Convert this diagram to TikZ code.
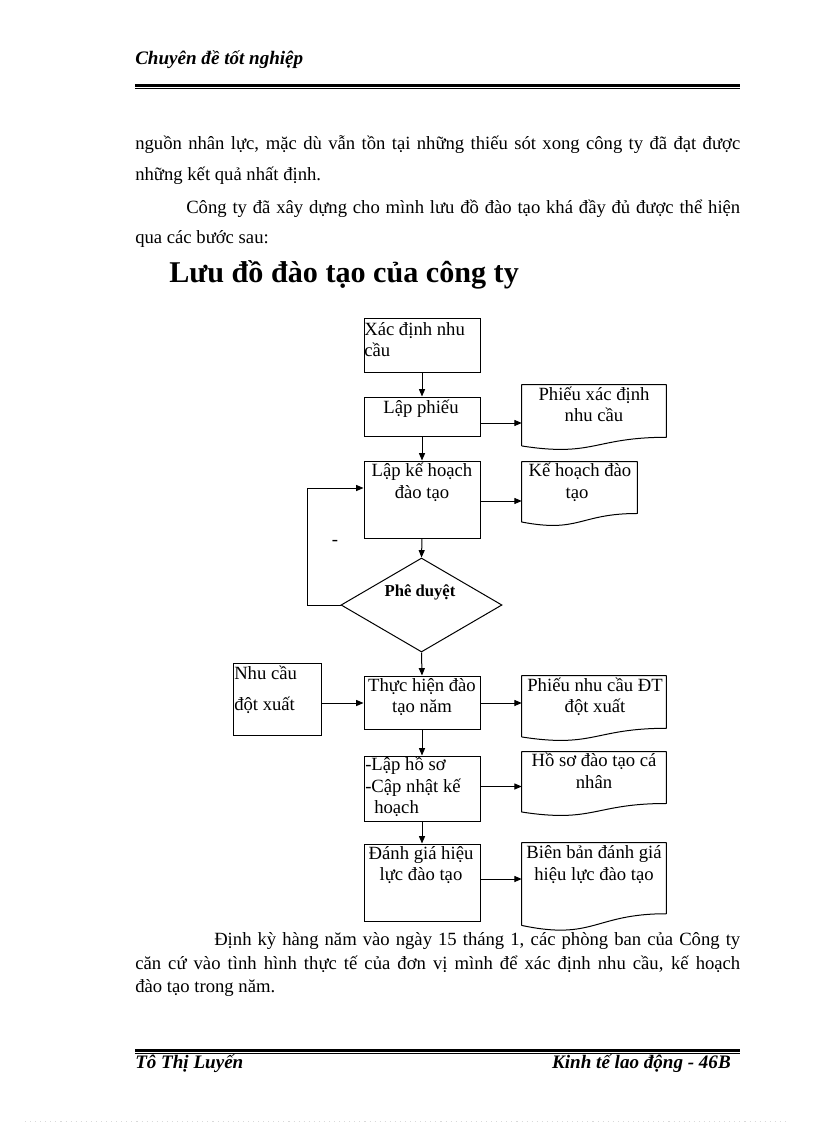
\documentclass[tikz,border=0pt]{standalone}
\usepackage{fontspec}
\setmainfont{Liberation Serif}
\usetikzlibrary{shapes.geometric,arrows.meta,calc}
\newcommand\docpath[1]{%
  \draw[ln,line join=round] (#1.north west) -- (#1.north east) -- ($(#1.north east)!0.802!(#1.south east)$)
    .. controls ($(#1.north)!0.802!(#1.south)$) and ($(#1.north)!1.107!(#1.south)$) .. ($(#1.north west)!0.934!(#1.south west)$) -- cycle;}
\begin{document}
\begin{tikzpicture}[x=0.75pt,y=-0.75pt,
  ln/.style={line width=0.75pt},
  arr/.style={line width=0.75pt,-{Triangle[length=5.5pt,width=4.5pt]}},
  boxnode/.style={draw,line width=0.75pt,rectangle,inner sep=0pt,minimum width=87pt},
  docnode/.style={rectangle,inner sep=0pt,minimum width=108pt},
  ft/.style={font=\fontsize{14pt}{16pt}\selectfont,inner sep=0pt},
  hd/.style={font=\fontsize{14.3pt}{16pt}\selectfont\bfseries\itshape,inner sep=0pt},
  dtxt/.style={font=\fontsize{12.5pt}{14pt}\selectfont\bfseries,inner sep=0pt}
]
\useasboundingbox[fill=white] (0,0) rectangle (816,1123);

% header
\node[hd,anchor=mid west] (head) at (135,61) {Chuyên đề tốt nghiệp};
\draw[line width=1.9pt] (135,85.3) -- (740,85.3);
\draw[line width=0.75pt] (135,88.3) -- (740,88.3);

% body text
\node[ft,anchor=mid west] (p1) at (135,146) {\makebox[453.75pt][s]{nguồn nhân lực, mặc dù vẫn tồn tại những thiếu sót xong công ty đã đạt được}};
\node[ft,anchor=mid west] (p2) at (135,177) {những kết quả nhất định.};
\node[ft,anchor=mid west] (p3) at (186,210) {\makebox[415.5pt][s]{Công ty đã xây dựng cho mình lưu đồ đào tạo khá đầy đủ được thể hiện}};
\node[ft,anchor=mid west] (p4) at (135,240) {qua các bước sau:};

\node[anchor=mid west,inner sep=0pt,font=\fontsize{22.6pt}{24pt}\selectfont\bfseries] (title) at (169,279) {Lưu đồ đào tạo của công ty};

% flowchart boxes
\node[boxnode,minimum height=40.5pt] (b1) at (422,345) {};
\node[boxnode,minimum height=29.25pt] (b2) at (422,416.5) {};
\node[boxnode,minimum height=57.75pt] (b3) at (422,499.5) {};
\node[draw,line width=0.75pt,shape=diamond,inner sep=0pt,minimum width=120.75pt,minimum height=70.5pt] (dp) at (421.5,605) {};
\node[boxnode,minimum height=39.75pt] (b4) at (422,702.5) {};
\node[boxnode,minimum height=48.75pt] (b5) at (422,788.5) {};
\node[boxnode,minimum height=57.75pt] (b6) at (422,882.5) {};
\node[boxnode,minimum width=66pt,minimum height=54pt] (lb) at (277,699) {};

% document shapes
\node[docnode,minimum height=48.75pt] (d1) at (594,417.5) {};
\node[docnode,minimum width=86.25pt,minimum height=48pt] (d2) at (579.5,494) {};
\node[docnode,minimum height=48.75pt] (d3) at (594,708.5) {};
\node[docnode,minimum height=48pt] (d4) at (594,784) {};
\node[docnode,minimum height=66pt] (d5) at (594,887) {};
\docpath{d1}\docpath{d2}\docpath{d3}\docpath{d4}\docpath{d5}

% texts
\node[ft,anchor=mid west] (t1a) at (364,332) {Xác định nhu};
\node[ft,anchor=mid west] (t1b) at (364,353) {cầu};
\node[ft,anchor=mid] (t2) at (421,410) {Lập phiếu};
\node[ft,anchor=mid] (t3a) at (422,473) {Lập kế hoạch};
\node[ft,anchor=mid] (t3b) at (422,495) {đào tạo};
\node[ft,anchor=mid] (s1a) at (594,397) {Phiếu xác định};
\node[ft,anchor=mid] (s1b) at (594,418) {nhu cầu};
\node[ft,anchor=mid] (s2a) at (580,473) {Kế hoạch đào};
\node[ft,anchor=mid] (s2b) at (577,495) {tạo};
\node[dtxt,anchor=mid] (tdp) at (420,593) {Phê duyệt};
\node[ft,anchor=mid] (dash) at (335,542) {-};
\node[ft,anchor=mid west] (tla) at (234,676) {Nhu cầu};
\node[ft,anchor=mid west] (tlb) at (234,707) {đột xuất};
\node[ft,anchor=mid] (t4a) at (422,688) {Thực hiện đào};
\node[ft,anchor=mid] (t4b) at (422,709) {tạo năm};
\node[ft,anchor=mid] (s3a) at (595,688) {Phiếu nhu cầu ĐT};
\node[ft,anchor=mid] (s3b) at (595,709) {đột xuất};
\node[ft,anchor=mid west] (t5a) at (365,767) {-Lập hồ sơ};
\node[ft,anchor=mid west] (t5b) at (365,789) {-Cập nhật kế};
\node[ft,anchor=mid west] (t5c) at (374,810) {hoạch};
\node[ft,anchor=mid] (s4a) at (594,763) {Hồ sơ đào tạo cá};
\node[ft,anchor=mid] (s4b) at (594,785) {nhân};
\node[ft,anchor=mid] (t6a) at (421,856) {Đánh giá hiệu};
\node[ft,anchor=mid] (t6b) at (421,877) {lực đào tạo};
\node[ft,anchor=mid] (s5a) at (594,855) {Biên bản đánh giá};
\node[ft,anchor=mid] (s5b) at (594,877) {hiệu lực đào tạo};

% connectors
\draw[arr] (b1.south) -- (b2.north);
\draw[arr] (b2.east |- 0,423) -- (d1.west |- 0,423);
\draw[arr] (b2.south) -- (b3.north);
\draw[arr] (b3.east |- 0,501) -- (d2.west |- 0,501);
\draw[arr] (b3.south) -- (dp.north);
\coordinate (lp) at (307,605);
\draw[arr] (dp.west) -- (lp) |- (b3.west |- 0,488);
\draw[arr] (dp.south) -- (b4.north);
\draw[arr] (lb.east |- 0,703) -- (b4.west |- 0,703);
\draw[arr] (b4.east |- 0,703) -- (d3.west |- 0,703);
\draw[arr] (b4.south) -- (b5.north);
\draw[arr] (b5.east |- 0,786.5) -- (d4.west |- 0,786.5);
\draw[arr] (b5.south) -- (b6.north);
\draw[arr] (b6.east |- 0,879) -- (d5.west |- 0,879);

% closing paragraph
\node[ft,anchor=mid west] (q1) at (214,942.5) {\makebox[394.5pt][s]{Định kỳ hàng năm vào ngày 15 tháng 1, các phòng ban của Công ty}};
\node[ft,anchor=mid west] (q2) at (135,966) {\makebox[453.75pt][s]{căn cứ vào tình hình thực tế của đơn vị mình để xác định nhu cầu, kế hoạch}};
\node[ft,anchor=mid west] (q3) at (135,989.5) {đào tạo trong năm.};

% footer
\draw[line width=1.8pt] (135,1050.5) -- (740,1050.5);
\draw[line width=0.75pt] (135,1053.3) -- (740,1053.3);
\node[hd,anchor=mid west] (f1) at (135,1065) {Tô Thị Luyến};
\node[hd,anchor=mid east] (f2) at (731,1065) {Kinh tế lao động - 46B};
\draw[gray!30,line width=0.6pt,dash pattern=on 0.8pt off 3pt] (25,1121.5) -- (790,1121.5);
\end{tikzpicture}
\end{document}
